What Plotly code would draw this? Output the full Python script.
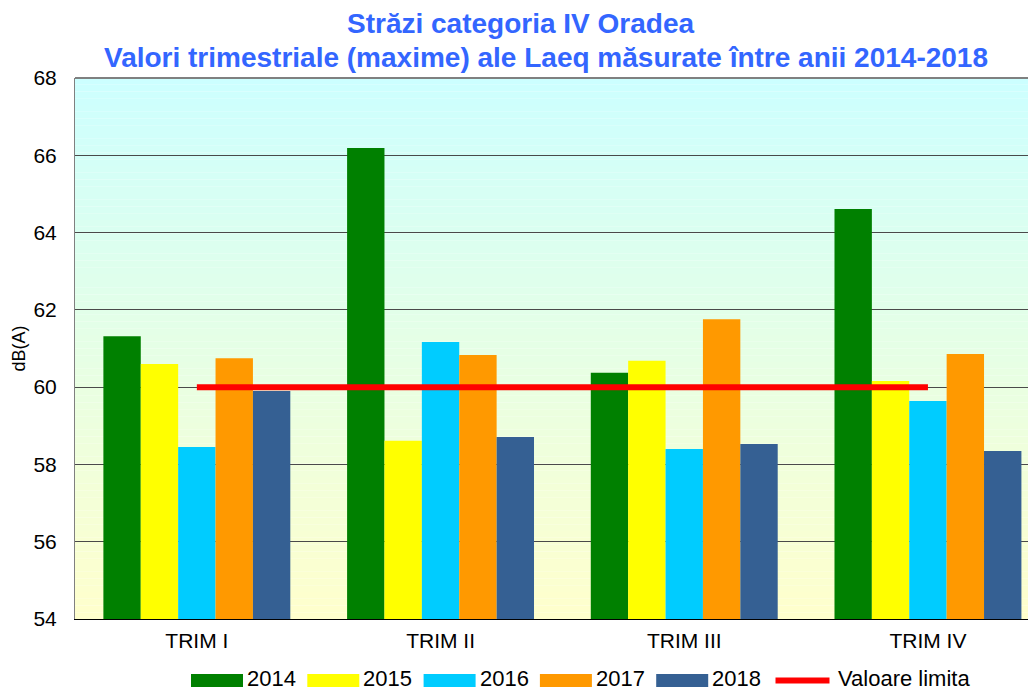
import plotly.graph_objects as go

categories = ["TRIM I", "TRIM II", "TRIM III", "TRIM IV"]
years = ["2014", "2015", "2016", "2017", "2018"]
values = {
    "2014": [61.32, 66.19, 60.37, 64.61],
    "2015": [60.60, 58.61, 60.68, 60.16],
    "2016": [58.45, 61.17, 58.40, 59.64],
    "2017": [60.75, 60.83, 61.76, 60.86],
    "2018": [59.90, 58.71, 58.53, 58.35],
}
limit_name = "Valoare limita"
limit_values = [60, 60, 60, 60]
colors = {"2014": "#008000", "2015": "#FFFF00", "2016": "#00CCFF",
          "2017": "#FF9900", "2018": "#356093"}
limit_color = "#FF0000"

FONT = "Arial, Liberation Sans, sans-serif"

# figure geometry (page body has an 8px margin)
W, H = 1020, 682
ML, MR, MT, MB = 67, 0, 70, 71
PW = W - ML - MR
PH = H - MT - MB
OFF = 8
CAT_PX = 243.7  # pixel spacing of categories in the original


def px(X):  # window x -> paper x
    return (X - OFF - ML) / PW


def py(Y):  # window y -> paper y
    return (H - MB + OFF - Y) / PH


fig = go.Figure()
for y in years:
    fig.add_trace(go.Bar(x=categories, y=values[y], name=y, showlegend=False,
                         marker=dict(color=colors[y], line=dict(width=0))))
fig.add_trace(go.Scatter(x=categories, y=limit_values, name=limit_name,
                         mode="lines", showlegend=False,
                         line=dict(color=limit_color, width=6)))

# vertical gradient background (cyan top -> light yellow bottom)
n = 80
top = (204, 255, 255)
bot = (255, 255, 204)
shapes = []
for i in range(n):
    t = (i + 0.5) / n
    c = tuple(round(bot[k] + (top[k] - bot[k]) * t) for k in range(3))
    shapes.append(dict(type="rect", xref="paper", yref="paper",
                       x0=0, x1=1, y0=i / n, y1=(i + 1) / n,
                       fillcolor="rgb(%d,%d,%d)" % c, line=dict(width=0),
                       layer="below"))
shapes.append(dict(type="line", xref="paper", yref="paper", x0=0, x1=1,
                   y0=1, y1=1, line=dict(color="#7f8080", width=2)))

annotations = []
# custom legend (wide colour boxes as in the original)
leg_start, leg_step, box_w = 191, 116.3, 52
ly0, ly1 = 674, 687
lyc = 678
for i, y in enumerate(years):
    x0 = leg_start + i * leg_step
    shapes.append(dict(type="rect", xref="paper", yref="paper",
                       x0=px(x0), x1=px(x0 + box_w), y0=py(ly1), y1=py(ly0),
                       fillcolor=colors[y], line=dict(width=0)))
    annotations.append(dict(text=y, xref="paper", yref="paper",
                            x=px(x0 + box_w + 2), y=py(lyc), xanchor="left",
                            yanchor="middle", showarrow=False,
                            font=dict(size=22, family=FONT, color="black")))
xl = leg_start + len(years) * leg_step
shapes.append(dict(type="line", xref="paper", yref="paper",
                   x0=px(xl + 3), x1=px(xl + 57), y0=py(680.5), y1=py(680.5),
                   line=dict(color=limit_color, width=6)))
annotations.append(dict(text=limit_name, xref="paper", yref="paper",
                        x=px(xl + 63), y=py(lyc), xanchor="left",
                        yanchor="middle", showarrow=False,
                        font=dict(size=22, family=FONT, color="black")))

annotations += [
    dict(text="<b>Străzi categoria IV Oradea</b>", xref="paper", yref="paper",
         x=px(520), y=py(23), xanchor="center", yanchor="middle",
         showarrow=False, font=dict(size=28, color="#3366FF", family=FONT)),
    dict(text="<b>Valori trimestriale (maxime) ale Laeq măsurate între anii 2014-2018</b>",
         xref="paper", yref="paper",
         x=px(546), y=py(58), xanchor="center", yanchor="middle",
         showarrow=False, font=dict(size=28, color="#3366FF", family=FONT)),
]

fig.update_layout(
    width=W, height=H,
    margin=dict(l=ML, r=MR, t=MT, b=MB),
    paper_bgcolor="white",
    plot_bgcolor="rgba(0,0,0,0)",
    barmode="group", bargap=0.233, bargroupgap=0,
    font=dict(family=FONT, size=20, color="black"),
    shapes=shapes,
    annotations=annotations,
    showlegend=False,
)
fig.update_xaxes(range=[-0.5, -0.5 + PW / CAT_PX], showgrid=False, showline=True,
                 linecolor="black", linewidth=1, ticks="", ticklabelstandoff=3,
                 tickfont=dict(size=21, family=FONT))
fig.update_yaxes(range=[54, 68], dtick=2, showgrid=True, gridcolor="#4a4a4a",
                 gridwidth=1, showline=True, linecolor="#808080", linewidth=1,
                 ticks="", ticklabelstandoff=13,
                 tickfont=dict(size=21, family=FONT), zeroline=False,
                 title=dict(text="dB(A)", font=dict(size=18, family=FONT), standoff=3))

fig.write_html("out.html")
